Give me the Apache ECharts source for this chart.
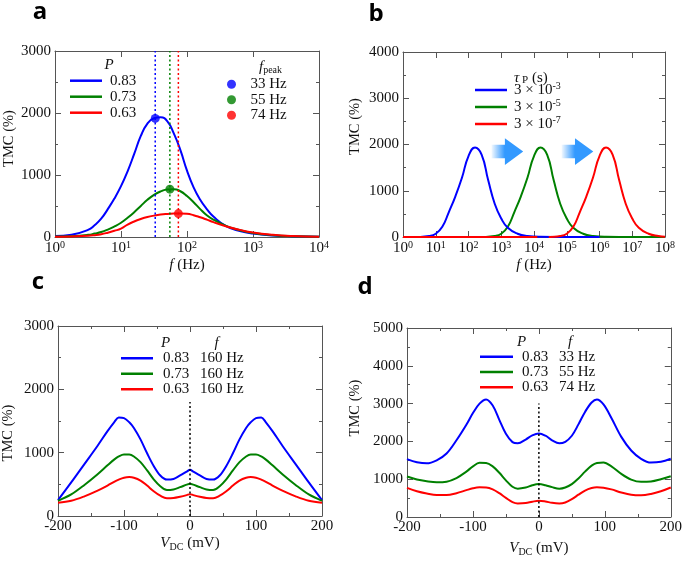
<!DOCTYPE html>
<html><head><meta charset="utf-8">
<script src="https://cdn.jsdelivr.net/npm/echarts@6/dist/echarts.min.js"></script>
<style>html,body{margin:0;padding:0;background:#fff}#c{width:685px;height:561px}</style>
</head><body><div id="c"></div>
<script>
// ---------- Panel a: TMC vs f (log10 f exponents) ----------
const aExp   = [0,0.25,0.5,0.6,0.7,0.8,0.9,1.0,1.1,1.2,1.3,1.4,1.5,1.6,1.7,1.8,1.9,2.0,2.1,2.2,2.3,2.4,2.6,2.8,3.0,3.3,3.6,4.0];
const aBlue  = [15,35,115,190,295,450,620,820,1060,1340,1630,1830,1915,1930,1870,1670,1400,1070,800,600,450,330,170,95,55,25,12,5];
const aGreen = [8,14,35,55,80,120,170,230,310,400,500,600,680,735,768,772,738,660,560,450,350,280,175,110,65,30,14,5];
const aRed   = [5,10,20,30,45,70,100,135,200,250,290,322,345,362,372,378,380,375,352,318,280,240,170,115,72,35,15,5];
const aNames = ['0.83','0.73','0.63'];
const aPeakF = [33,55,74];
const aPeakV = [1913,772,378];
const aPeakNames = ['33 Hz','55 Hz','74 Hz'];

// ---------- Panel b ----------
const bBlueExp  = [0,0.5,0.8,1.0,1.2,1.4,1.6,1.8,2.0,2.2,2.4,2.6,2.8,3.0,3.2,3.5,3.8,4.2,5,6];
const bBlueVal  = [0,2,20,70,220,540,880,1280,1750,1935,1780,1230,720,400,200,70,20,3,0,0];
const bGreenExp = [2,2.5,2.8,3.0,3.2,3.4,3.6,3.8,4.0,4.2,4.4,4.6,4.8,5.0,5.2,5.5,5.8,6.2,7,8];
const bGreenVal = [0,2,20,70,220,540,880,1280,1750,1935,1780,1230,720,400,200,70,20,3,0,0];
const bRedExp   = [4.45,4.5,4.8,5.0,5.2,5.4,5.6,5.8,6.0,6.2,6.4,6.6,6.8,7.0,7.2,7.5,7.8,8.0];
const bRedVal   = [0,2,20,70,220,540,880,1280,1750,1935,1780,1230,720,400,200,70,20,8];
const bRedBaseExp = [0,4.1];
const bRedBaseVal = [0,0];
const bNames = ['3 × 10^-3','3 × 10^-5','3 × 10^-7'];

// ---------- Panel c ----------
const cX     = [-200,-180,-160,-140,-125,-115,-108,-100,-92,-85,-75,-65,-55,-45,-35,-25,-15,-5,0,5,15,25,35,45,55,65,75,85,92,100,108,115,125,140,160,180,200];
const cBlue  = [250,530,820,1110,1340,1480,1555,1545,1480,1390,1210,990,790,640,575,585,640,700,730,700,640,585,575,640,790,990,1210,1390,1480,1545,1555,1480,1340,1110,820,530,250];
const cGreen = [240,340,490,660,800,890,940,970,970,940,850,720,580,470,410,420,455,495,510,495,455,420,410,470,580,720,850,940,970,970,940,890,800,660,490,340,240];
const cRed   = [210,240,310,400,480,540,575,605,615,605,560,480,390,320,280,285,305,330,345,330,305,285,280,320,390,480,560,605,615,605,575,540,480,400,310,240,210];
const cNames = ['0.83  160 Hz','0.73  160 Hz','0.63  160 Hz'];
const cDotX = [0,0], cDotY = [0,1800];

// ---------- Panel d ----------
const dX     = [-200,-185,-170,-155,-140,-125,-110,-100,-90,-80,-70,-60,-50,-40,-32,-20,-10,0,10,20,31,40,50,60,70,80,88,98,110,125,140,155,170,185,200];
const dBlue  = [1530,1450,1420,1500,1680,2030,2440,2750,3000,3110,2950,2570,2200,1980,1950,2050,2160,2210,2150,2030,1950,1990,2150,2450,2780,3030,3110,2980,2620,2120,1760,1540,1440,1460,1540];
const dGreen = [1070,990,945,920,935,1030,1200,1340,1435,1430,1340,1170,970,800,750,780,840,870,840,790,750,780,870,1020,1200,1360,1430,1440,1340,1140,990,930,940,1000,1080];
const dRed   = [770,680,620,580,580,630,710,760,785,780,730,630,505,395,360,370,405,430,410,375,360,385,470,590,700,765,785,775,730,650,590,575,610,680,780];
const dNames = ['0.83  33 Hz','0.73  55 Hz','0.63  74 Hz'];
const dDotX = [0,0], dDotY = [0,3000];

const COLORS = ['#0000ff','#008000','#ff0000'];
const FONT = 'Liberation Serif';
const AX = '#555555';
const TXT = '#111111';

const pow = e => Math.pow(10, e);
const pairsLog = (ex, vs) => ex.map((e,i)=>[pow(e), vs[i]]);
const pairs = (xs, vs) => xs.map((x,i)=>[x, vs[i]]);

function lineSeries(name, idx, data, color, extra) {
  return Object.assign({type:'line', name, xAxisIndex:idx, yAxisIndex:idx, data, color,
    symbol:'none', showSymbol:false, smooth:0.35, silent:true,
    lineStyle:{width:2, color}, z:3}, extra||{});
}
function dotSeries(idx, xs, ys, color) {
  return {type:'line', xAxisIndex:idx, yAxisIndex:idx, data:pairs(xs, ys), color, symbol:'none',
    silent:true, lineStyle:{width:1.5, color, type:[2,2.5]}, z:4};
}

const labelStyle = {color:TXT, fontFamily:FONT, fontSize:15, formatter:v=>String(v)};
const supRich = {
  b:{fontFamily:FONT, fontSize:15, color:TXT, lineHeight:17},
  s:{fontFamily:FONT, fontSize:10, color:TXT, verticalAlign:'top', lineHeight:10}
};
function axisCommon(extra) {
  return Object.assign({
    axisLine:{show:true, onZero:false, lineStyle:{color:AX, width:1}},
    axisTick:{show:true, inside:true, length:6, lineStyle:{color:AX, width:1}},
    splitLine:{show:false}
  }, extra);
}
function logX(grid, maxExp, pos, withLabel, name) {
  return axisCommon({type:'log', logBase:10, gridIndex:grid, position:pos, min:1, max:pow(maxExp),
    splitNumber:maxExp,
    axisLabel: withLabel ? {show:true, margin:3, formatter:v=>'{b|10}{s|'+Math.round(Math.log10(v))+'}', rich:supRich} : {show:false},
    name: name||'', nameLocation:'middle', nameGap:21,
    nameTextStyle:{fontFamily:FONT, fontSize:15, color:TXT,
      rich:{i:{fontFamily:FONT, fontSize:15, fontStyle:'italic', color:TXT}, n:{fontFamily:FONT, fontSize:15, color:TXT}}}
  });
}
function valX(grid, pos, withLabel, gap) {
  return axisCommon({type:'value', gridIndex:grid, position:pos, min:-200, max:200, interval:100,
    minorTick:{show:true, splitNumber:2, length:3, lineStyle:{color:AX}},
    axisLabel: withLabel ? Object.assign({show:true, margin:3}, labelStyle) : {show:false},
    name: withLabel ? '{i|V}{sub|DC}{n| (mV)}' : '', nameLocation:'middle', nameGap:gap||20,
    nameTextStyle:{fontFamily:FONT, fontSize:15, color:TXT,
      rich:{i:{fontFamily:FONT, fontSize:15, fontStyle:'italic', color:TXT},
            sub:{fontFamily:FONT, fontSize:10, color:TXT, verticalAlign:'bottom', lineHeight:12},
            n:{fontFamily:FONT, fontSize:15, color:TXT, lineHeight:17}}}
  });
}
function valY(grid, max, pos, withLabel, gap, pad) {
  return axisCommon({type:'value', gridIndex:grid, position:pos, min:0, max, interval:1000,
    minorTick:{show:true, splitNumber:2, length:3, lineStyle:{color:AX}},
    axisLabel: withLabel ? Object.assign({show:true, margin:4}, labelStyle) : {show:false},
    name: withLabel ? 'TMC (%)' : '', nameLocation:'middle', nameGap:gap||40,
    nameTextStyle:{fontFamily:FONT, fontSize:14.5, color:TXT, padding:pad||0}
  });
}

const grids = [
  {left:55, top:51, width:264, height:186},
  {left:403, top:52, width:262, height:185},
  {left:57, top:326, width:265, height:190},
  {left:407, top:328, width:265, height:189}
];

const legendText = {fontFamily:FONT, fontSize:15, color:TXT, lineHeight:16};
function splitFmt(n){ const p = n.split(/\s{2,}/); return '{p|'+p[0]+'}{f|'+p[1]+'}'; }
const pfRich = {p:{fontFamily:FONT, fontSize:15, color:TXT, width:37}, f:{fontFamily:FONT, fontSize:15, color:TXT}};

const option = {
  animation:false,
  backgroundColor:'#ffffff',
  textStyle:{fontFamily:FONT},
  grid: grids.map(g=>Object.assign({containLabel:false}, g)),
  xAxis:[
    logX(0, 4, 'bottom', true, '{i|f}{n| (Hz)}'),
    logX(1, 8, 'bottom', true, '{i|f}{n| (Hz)}'),
    valX(2, 'bottom', true, 19),
    valX(3, 'bottom', true, 23),
    logX(0, 4, 'top', false),
    logX(1, 8, 'top', false),
    valX(2, 'top', false),
    valX(3, 'top', false)
  ],
  yAxis:[
    valY(0, 3000, 'left', true, 38, [0,0,0,11]),
    valY(1, 4000, 'left', true, 40, [0,0,0,36]),
    valY(2, 3000, 'left', true, 42, [0,24,0,0]),
    valY(3, 5000, 'left', true, 44, [0,0,0,29]),
    valY(0, 3000, 'right', false),
    valY(1, 4000, 'right', false),
    valY(2, 3000, 'right', false),
    valY(3, 5000, 'right', false)
  ],
  legend:[
    {data:aNames, left:70, top:72.7, orient:'vertical', icon:'rect', itemWidth:32, itemHeight:2.5, itemGap:0,
     padding:0, selectedMode:false, textStyle:Object.assign({padding:[0,0,0,3]}, legendText)},
    {data:aPeakNames, left:227, top:76.5, orient:'vertical', icon:'circle', itemWidth:28, itemHeight:9, itemGap:0,
     padding:0, selectedMode:false, textStyle:Object.assign({}, legendText, {lineHeight:15.5})},
    {data:bNames, left:475, top:81.5, orient:'vertical', icon:'rect', itemWidth:32, itemHeight:2.5, itemGap:0,
     padding:0, selectedMode:false,
     formatter:n=>{const p=n.split('^'); return '{b|'+p[0]+'}{s|'+p[1]+'}';},
     textStyle:Object.assign({padding:[0,0,0,2], rich:supRich}, legendText, {lineHeight:15.7})},
    {data:cNames, left:121, top:350.5, orient:'vertical', icon:'rect', itemWidth:32, itemHeight:2.5, itemGap:0,
     padding:0, selectedMode:false, formatter:splitFmt,
     textStyle:Object.assign({padding:[0,0,0,5], rich:pfRich}, legendText, {lineHeight:15.5})},
    {data:dNames, left:480, top:349, orient:'vertical', icon:'rect', itemWidth:33, itemHeight:2.5, itemGap:0,
     padding:0, selectedMode:false, formatter:splitFmt,
     textStyle:Object.assign({padding:[0,0,0,4], rich:pfRich}, legendText, {lineHeight:15.3})}
  ],
  graphic:{elements:[
    {id:'la', type:'text', style:{text:'a', x:40, y:12, align:'center', verticalAlign:'middle', font:'bold 24px "Open Sans"', fill:'#000'}},
    {id:'lb', type:'text', style:{text:'b', x:376, y:14, align:'center', verticalAlign:'middle', font:'bold 24px "Open Sans"', fill:'#000'}},
    {id:'lc', type:'text', style:{text:'c', x:38, y:282, align:'center', verticalAlign:'middle', font:'bold 24px "Open Sans"', fill:'#000'}},
    {id:'ld', type:'text', style:{text:'d', x:365, y:287, align:'center', verticalAlign:'middle', font:'bold 24px "Open Sans"', fill:'#000'}},
    {id:'aP', type:'text', style:{text:'P', x:109, y:65, align:'center', verticalAlign:'middle', font:'italic 15px "Liberation Serif"', fill:TXT}},
    {id:'afp', type:'text', style:{text:'{i|f}{s|peak}', x:259, y:67, align:'left', verticalAlign:'middle',
      rich:{i:{fontFamily:FONT, fontSize:15, fontStyle:'italic', fill:TXT, lineHeight:16},
            s:{fontFamily:FONT, fontSize:10, fill:TXT, verticalAlign:'bottom', lineHeight:10}}}},
    {id:'bt', type:'text', style:{text:'{i|τ}{s| P}{n| (s)}', x:514, y:78, align:'left', verticalAlign:'middle',
      rich:{i:{fontFamily:FONT, fontSize:15, fontStyle:'italic', fill:TXT, lineHeight:16},
            s:{fontFamily:FONT, fontSize:11, fill:TXT, verticalAlign:'bottom', lineHeight:11},
            n:{fontFamily:FONT, fontSize:15, fill:TXT, lineHeight:16}}}},
    {id:'cP', type:'text', style:{text:'P', x:165.5, y:343, align:'center', verticalAlign:'middle', font:'italic 15px "Liberation Serif"', fill:TXT}},
    {id:'cf', type:'text', style:{text:'f', x:216.7, y:343, align:'center', verticalAlign:'middle', font:'italic 15px "Liberation Serif"', fill:TXT}},
    {id:'dP', type:'text', style:{text:'P', x:521.7, y:341.7, align:'center', verticalAlign:'middle', font:'italic 15px "Liberation Serif"', fill:TXT}},
    {id:'df', type:'text', style:{text:'f', x:570, y:342, align:'center', verticalAlign:'middle', font:'italic 15px "Liberation Serif"', fill:TXT}}
  ]},
  series:[
    // panel a
    lineSeries(aNames[0], 0, pairsLog(aExp, aBlue), COLORS[0], {smooth:0.5}),
    lineSeries(aNames[1], 0, pairsLog(aExp, aGreen), COLORS[1], {smooth:0.5}),
    lineSeries(aNames[2], 0, pairsLog(aExp, aRed), COLORS[2], {smooth:0.5}),
    dotSeries(0, [aPeakF[0],aPeakF[0]], [0,3000], COLORS[0]),
    dotSeries(0, [aPeakF[1],aPeakF[1]], [0,3000], COLORS[1]),
    dotSeries(0, [aPeakF[2],aPeakF[2]], [0,3000], COLORS[2]),
    ...aPeakNames.map((n,i)=>({type:'scatter', name:n, xAxisIndex:0, yAxisIndex:0, data:[[aPeakF[i], aPeakV[i]]],
      symbol:'circle', symbolSize:9, color:COLORS[i], itemStyle:{color:COLORS[i]}, silent:true, z:5})),
    // panel b (green drawn first, then blue, then red)
    lineSeries(bNames[1], 1, pairsLog(bGreenExp, bGreenVal), COLORS[1], {smooth:0.5}),
    lineSeries(bNames[0], 1, pairsLog(bBlueExp, bBlueVal), COLORS[0], {smooth:0.5}),
    lineSeries('bRedBase', 1, pairsLog(bRedBaseExp, bRedBaseVal), COLORS[2], {smooth:false}),
    lineSeries(bNames[2], 1, pairsLog(bRedExp, bRedVal), COLORS[2], {smooth:0.5}),
    // panel c
    lineSeries(cNames[0], 2, pairs(cX, cBlue), COLORS[0]),
    lineSeries(cNames[1], 2, pairs(cX, cGreen), COLORS[1]),
    lineSeries(cNames[2], 2, pairs(cX, cRed), COLORS[2]),
    dotSeries(2, cDotX, cDotY, '#000000'),
    // panel d
    lineSeries(dNames[0], 3, pairs(dX, dBlue), COLORS[0]),
    lineSeries(dNames[1], 3, pairs(dX, dGreen), COLORS[1]),
    lineSeries(dNames[2], 3, pairs(dX, dRed), COLORS[2]),
    dotSeries(3, dDotX, dDotY, '#000000')
  ]
};

const chart = echarts.init(document.getElementById('c'), null, {renderer:'canvas'});
chart.setOption(option);

// decorative shift arrows in panel b, placed in data coordinates (log10 f, TMC)
const arrowSpecs = [[2.70, 3.67, 1848], [4.84, 5.81, 1848]];
const arrows = arrowSpecs.map((a, k) => {
  const p0 = chart.convertToPixel({xAxisIndex:1, yAxisIndex:1}, [pow(a[0]), a[2]]);
  const p1 = chart.convertToPixel({xAxisIndex:1, yAxisIndex:1}, [pow(a[1]), a[2]]);
  const x0 = p0[0], x1 = p1[0], y = p0[1], hs = x1 - 18.3;
  return {id:'arr'+k, type:'polygon', silent:true, z:10,
    shape:{points:[[x0,y-6.7],[hs,y-6.7],[hs,y-13.4],[x1,y],[hs,y+13.4],[hs,y+6.7],[x0,y+6.7]]},
    style:{fill:{type:'linear', x:0, y:0, x2:1, y2:0, global:false,
      colorStops:[{offset:0, color:'rgba(51,153,255,0.05)'},{offset:0.42, color:'rgba(51,153,255,1)'},{offset:1, color:'rgba(51,153,255,1)'}]}}};
});
chart.setOption({graphic:{elements:arrows}});
</script>
</body></html>
